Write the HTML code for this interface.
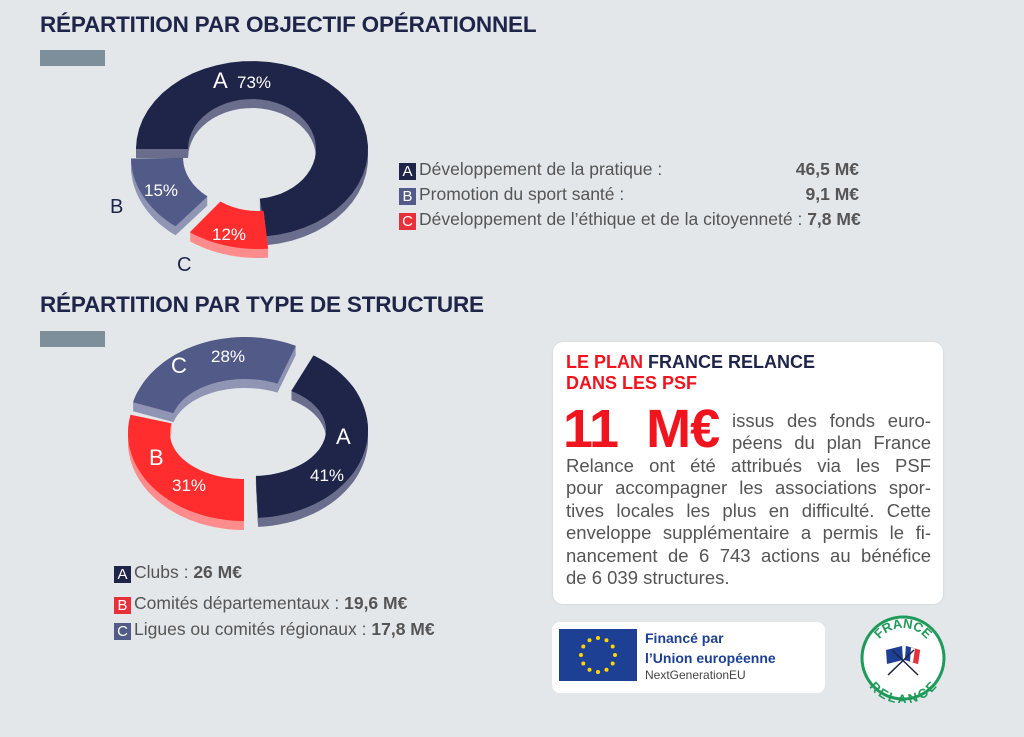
<!DOCTYPE html>
<html><head><meta charset="utf-8"><style>
body{margin:0;width:1024px;height:737px;background:#e3e7ea;font-family:"Liberation Sans",sans-serif;position:relative;overflow:hidden}
.a{position:absolute;white-space:nowrap}
h2{position:absolute;margin:0;font-size:22.5px;font-weight:bold;color:#1f2449;letter-spacing:-0.2px;white-space:nowrap}
.bar{position:absolute;width:65px;height:16px;background:#7d8f9a}
.lg{position:absolute;font-size:17.5px;color:#555;white-space:nowrap}
.k{display:inline-block;width:17px;height:17px;color:#fff;font-size:15px;line-height:17px;text-align:center;margin-right:3px;vertical-align:-1px}
.tx{position:absolute;left:566px;width:365px;font-size:18.5px;color:#555;text-align:justify;text-align-last:justify;white-space:nowrap;line-height:22px}
</style></head><body>
<h2 style="left:40px;top:12px">RÉPARTITION PAR OBJECTIF OPÉRATIONNEL</h2>
<div class="bar" style="left:40px;top:50px"></div>
<h2 style="left:40px;top:292px">RÉPARTITION PAR TYPE DE STRUCTURE</h2>
<div class="bar" style="left:40px;top:331px"></div>

<svg width="1024" height="737" style="position:absolute;left:0;top:0" id="s">
<g id="g"></g>
<g font-family="Liberation Sans" fill="#fff" font-size="17">
<text x="213" y="88" font-size="22">A</text><text x="237" y="88">73%</text>
<text x="144" y="196">15%</text>
<text x="212" y="240">12%</text>
<text x="211" y="362">28%</text>
<text x="171" y="373" font-size="22">C</text>
<text x="336" y="444" font-size="22">A</text>
<text x="310" y="481">41%</text>
<text x="149" y="465" font-size="22">B</text>
<text x="172" y="491">31%</text>
</g>
<text x="110" y="213" font-size="20" fill="#1f2449" font-family="Liberation Sans">B</text>
<text x="177" y="271" font-size="20" fill="#1f2449" font-family="Liberation Sans">C</text>
</svg>

<div class="lg" style="left:399px;top:159px;width:460px"><span class="k" style="background:#1f2449">A</span>Développement de la pratique :<b style="position:absolute;right:0">46,5 M€</b></div>
<div class="lg" style="left:399px;top:184px;width:460px"><span class="k" style="background:#525a88">B</span>Promotion du sport santé :<b style="position:absolute;right:0">9,1 M€</b></div>
<div class="lg" style="left:399px;top:209px;width:460px"><span class="k" style="background:#e8303a">C</span>Développement de l’éthique et de la citoyenneté : <b>7,8 M€</b></div>

<div class="lg" style="left:114px;top:562px"><span class="k" style="background:#1f2449">A</span>Clubs : <b>26 M€</b></div>
<div class="lg" style="left:114px;top:593px"><span class="k" style="background:#e8303a">B</span>Comités départementaux : <b>19,6 M€</b></div>
<div class="lg" style="left:114px;top:619px"><span class="k" style="background:#525a88">C</span>Ligues ou comités régionaux : <b>17,8 M€</b></div>

<div class="a" style="left:553px;top:342px;width:390px;height:262px;background:#fff;border-radius:10px;box-shadow:0 0 2px #ccc"></div>
<div class="a" style="left:566px;top:352px;font-size:18px;font-weight:bold;color:#f0141e;line-height:21px">LE PLAN <span style="color:#1f2449">FRANCE RELANCE</span><br>DANS LES PSF</div>
<div class="a" style="left:563px;top:398px;font-size:54px;font-weight:bold;color:#f0141e;letter-spacing:-1px;word-spacing:14px">11 M€</div>
<div class="tx" style="left:732px;width:199px;top:410px">issus des fonds euro-</div>
<div class="tx" style="left:732px;width:199px;top:432px">péens du plan France</div>
<div class="tx" style="top:455px">Relance ont été attribués via les PSF</div>
<div class="tx" style="top:477px">pour accompagner les associations spor-</div>
<div class="tx" style="top:500px">tives locales les plus en difficulté. Cette</div>
<div class="tx" style="top:522px">enveloppe supplémentaire a permis le fi-</div>
<div class="tx" style="top:545px">nancement de 6 743 actions au bénéfice</div>
<div class="tx" style="top:567px;text-align-last:left">de 6 039 structures.</div>

<div class="a" style="left:552px;top:622px;width:273px;height:71px;background:#fff;border-radius:8px"></div>
<svg class="a" style="left:559px;top:629px" width="78" height="52"><rect width="78" height="52" fill="#1d3f94"/>
<g fill="#ffd500" id="st"></g></svg>
<div class="a" style="left:645px;top:628px;font-size:14px;font-weight:bold;color:#1d3f94;line-height:20px">Financé par<br>l’Union européenne</div>
<div class="a" style="left:645px;top:668px;font-size:12px;color:#444">NextGenerationEU</div>

<svg class="a" style="left:858px;top:613px" width="90" height="90">
<circle cx="45" cy="45" r="41" fill="#fff" stroke="#1f9a5a" stroke-width="3"/>
<path id="tp" d="M15,45 A30,30 0 0 1 75,45" fill="none"/>
<path id="bp" d="M12,48 A33,33 0 0 0 78,48" fill="none"/>
<text font-size="13" font-weight="bold" fill="#1f9a5a" font-family="Liberation Sans"><textPath href="#tp" startOffset="50%" text-anchor="middle">FRANCE</textPath></text>
<text font-size="13" font-weight="bold" fill="#1f9a5a" font-family="Liberation Sans"><textPath href="#bp" startOffset="50%" text-anchor="middle" dominant-baseline="hanging">RELANCE</textPath></text>
<polygon points="28,37 44,33 45,47 29,51" fill="#1d3f94"/>
<polygon points="48,33 62,37 60,51 47,47" fill="#fff" stroke="#aaa" stroke-width=".5"/>
<polygon points="48,33 53,34.5 52,48.5 47,47" fill="#1d3f94"/>
<polygon points="57,35.5 62,37 60,51 55,49.5" fill="#e8303a"/>
<line x1="30" y1="62" x2="56" y2="37" stroke="#1f2449" stroke-width="1.5"/>
<line x1="60" y1="62" x2="34" y2="37" stroke="#1f2449" stroke-width="1.5"/>
</svg>

<script>
function sec(cx,cy,R,Ry,r,ry,a0,a1){var d=Math.PI/180,s=[],i,n=40;
for(i=0;i<=n;i++){var t=(a0+(a1-a0)*i/n)*d;s.push((cx+R*Math.cos(t)).toFixed(1)+','+(cy+Ry*Math.sin(t)).toFixed(1));}
for(i=n;i>=0;i--){var t=(a0+(a1-a0)*i/n)*d;s.push((cx+r*Math.cos(t)).toFixed(1)+','+(cy+ry*Math.sin(t)).toFixed(1));}
return 'M'+s.join('L')+'Z';}
var g=document.getElementById('g'),h='';
function add(cx,cy,R,Ry,r,ry,a0,a1,top,side){
for(var k=9;k>0;k--)h+='<path d="'+sec(cx,cy+k,R,Ry,r,ry,a0,a1)+'" fill="'+side+'"/>';
h+='<path d="'+sec(cx,cy,R,Ry,r,ry,a0,a1)+'" fill="'+top+'"/>';}
add(252,149,116,88,64,50,180,443,'#1f2449','#6a6e8c');
add(247,157,116,88,64,50,128,179,'#525a88','#9095b4');
add(258,161,116,88,64,50,85,126,'#ff2d2d','#ff8c8c');
add(252,430,116,88,74,46,-58,87,'#1f2449','#6a6e8c');
add(244,433,116,88,74,46,90,192,'#ff2d2d','#ff8c8c');
add(245,425,116,88,74,46,195,296,'#525a88','#9095b4');
g.innerHTML=h;
var st='';for(var i=0;i<12;i++){var t=i*Math.PI/6;st+='<circle cx="'+(39+17*Math.cos(t)).toFixed(1)+'" cy="'+(26+17*Math.sin(t)).toFixed(1)+'" r="2"/>';}
document.getElementById('st').innerHTML=st;
</script>
</body></html>
